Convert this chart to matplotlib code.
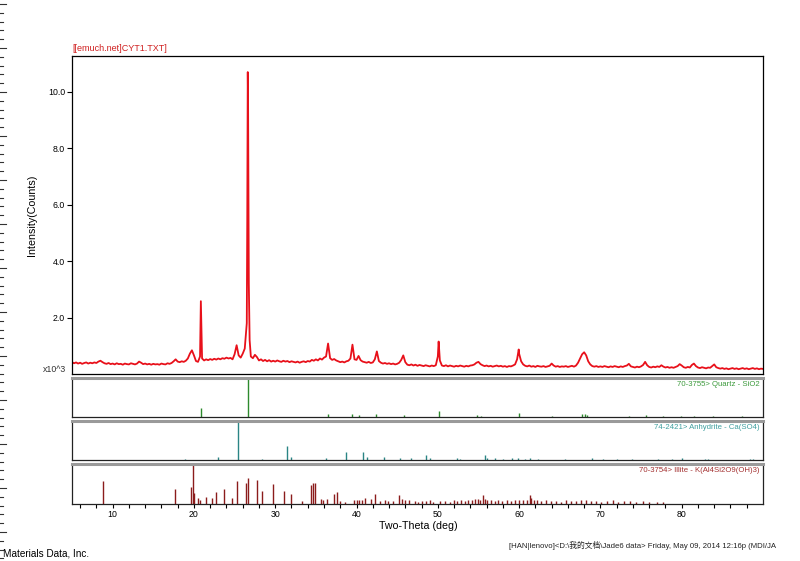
import numpy as np
import matplotlib
matplotlib.use('Agg')
import matplotlib.pyplot as plt
from matplotlib.lines import Line2D

plt.rcParams['font.family'] = ['Liberation Sans', 'Noto Sans CJK SC', 'DejaVu Sans']

# scan: 5..90 deg, step 0.25 (counts x10^3)
scan_start, scan_step = 5.0, 0.25
scan_counts = [
    0.42, 0.38, 0.41, 0.37, 0.40, 0.36, 0.39, 0.41, 0.37, 0.40, 0.38, 0.41, 0.39, 0.44, 0.47, 0.42, 0.38, 0.36, 0.39, 0.35,
    0.37, 0.34, 0.38, 0.35, 0.36, 0.33, 0.37, 0.35, 0.34, 0.38, 0.36, 0.34, 0.37, 0.44, 0.40, 0.35, 0.37, 0.34, 0.36, 0.33,
    0.36, 0.34, 0.35, 0.33, 0.37, 0.35, 0.34, 0.38, 0.36, 0.39, 0.45, 0.52, 0.44, 0.42, 0.45, 0.43, 0.47, 0.55, 0.72, 0.84,
    0.66, 0.46, 0.43, 0.62, 0.55, 0.48, 0.52, 0.49, 0.53, 0.50, 0.54, 0.51, 0.55, 0.52, 0.56, 0.54, 0.58, 0.55, 0.57, 0.52,
    0.70, 1.02, 0.66, 0.58, 0.72, 0.90, 1.80, 3.20, 0.62, 0.56, 0.68, 0.60, 0.48, 0.52, 0.46, 0.50, 0.45, 0.49, 0.44, 0.47,
    0.44, 0.48, 0.45, 0.43, 0.47, 0.44, 0.46, 0.42, 0.45, 0.43, 0.41, 0.44, 0.40, 0.43, 0.45, 0.42, 0.46, 0.44, 0.50, 0.47,
    0.52, 0.48, 0.55, 0.51, 0.58, 0.62, 1.08, 0.56, 0.50, 0.53, 0.48, 0.45, 0.42, 0.44, 0.41, 0.45, 0.47, 0.55, 1.04, 0.52,
    0.50, 0.64, 0.49, 0.44, 0.42, 0.40, 0.43, 0.39, 0.41, 0.52, 0.80, 0.46, 0.40, 0.37, 0.39, 0.36, 0.38, 0.35, 0.37, 0.34,
    0.36, 0.40, 0.50, 0.66, 0.42, 0.33, 0.31, 0.34, 0.30, 0.33, 0.29, 0.32, 0.30, 0.28, 0.31, 0.29, 0.27, 0.30, 0.28, 0.31,
    0.62, 0.48, 0.30, 0.28, 0.31, 0.27, 0.30, 0.28, 0.26, 0.29, 0.27, 0.30, 0.28, 0.26, 0.29, 0.27, 0.30, 0.31, 0.34, 0.40,
    0.43, 0.35, 0.31, 0.28, 0.30, 0.27, 0.29, 0.26, 0.28, 0.30, 0.27, 0.29, 0.26, 0.28, 0.25, 0.28, 0.27, 0.30, 0.34, 0.52,
    0.72, 0.45, 0.34, 0.29, 0.27, 0.30, 0.26, 0.28, 0.25, 0.29, 0.27, 0.26, 0.28, 0.25, 0.27, 0.29, 0.37, 0.30, 0.26, 0.28,
    0.25, 0.27, 0.26, 0.28, 0.25, 0.27, 0.29, 0.26, 0.30, 0.40, 0.55, 0.70, 0.77, 0.66, 0.45, 0.34, 0.28, 0.26, 0.28, 0.25,
    0.27, 0.25, 0.28, 0.26, 0.24, 0.27, 0.25, 0.28, 0.26, 0.24, 0.27, 0.25, 0.28, 0.30, 0.36, 0.27, 0.25, 0.23, 0.26, 0.24,
    0.27, 0.32, 0.43, 0.31, 0.25, 0.23, 0.26, 0.24, 0.27, 0.25, 0.31, 0.26, 0.23, 0.25, 0.22, 0.24, 0.22, 0.25, 0.28, 0.35,
    0.30, 0.24, 0.22, 0.25, 0.23, 0.32, 0.37, 0.28, 0.23, 0.21, 0.24, 0.22, 0.20, 0.23, 0.22, 0.28, 0.34, 0.24, 0.21, 0.19,
    0.21, 0.18, 0.20, 0.17, 0.19, 0.21, 0.18, 0.20, 0.17, 0.19, 0.21, 0.18, 0.20, 0.17, 0.19, 0.21, 0.18, 0.20, 0.17, 0.19,
    0.18,
]
# extra points on the sharp peaks
peak_2theta = [20.85, 26.56, 26.62, 26.66, 26.70, 26.85, 50.10, 59.95]
peak_counts = [2.58, 5.50, 10.70, 9.60, 6.70, 1.20, 1.15, 0.87]

# reference patterns (2-theta, relative intensity %)
quartz_2t = [20.85, 26.64, 36.54, 39.47, 40.29, 42.45, 45.79, 50.14, 54.87, 55.32, 59.96,
             64.03, 67.74, 68.14, 68.32, 73.47, 75.66, 77.67, 79.88, 81.49, 83.84, 87.4]
quartz_I = [22, 100, 8, 8, 4, 6, 4, 14, 4, 2, 9, 2, 6, 7, 5, 2, 3, 1, 2, 2, 1, 1]

anhydrite_2t = [18.9, 22.9, 25.45, 28.4, 31.4, 31.9, 36.3, 38.7, 40.85, 41.25, 43.4, 45.4, 46.7,
                48.6, 49.0, 52.3, 52.7, 55.8, 56.1, 57.0, 58.0, 59.1, 59.9, 60.7, 61.3, 62.3,
                65.6, 69.0, 70.3, 72.0, 73.9, 77.1, 78.8, 80.0, 82.9, 83.2, 88.4, 88.8]
anhydrite_I = [2, 8, 100, 3, 36, 8, 5, 20, 22, 8, 7, 6, 4,
               12, 5, 6, 3, 13, 5, 4, 3, 5, 4, 3, 4, 3,
               3, 4, 3, 3, 3, 3, 3, 4, 3, 3, 3, 2]

illite_2t = [8.8, 17.7, 19.6, 19.85, 20.05, 20.45, 20.8, 21.5, 22.2, 22.7, 23.7, 24.7, 25.3,
             26.45, 26.65, 27.7, 28.4, 29.75, 31.05, 31.95, 33.3, 34.45, 34.7, 34.95, 35.6,
             35.9, 36.4, 37.2, 37.65, 38.0, 38.6, 39.7, 40.0, 40.3, 40.7, 41.1, 41.8, 42.25,
             42.9, 43.5, 43.9, 44.5, 45.2, 45.6, 46.0, 46.5, 47.2, 47.6, 48.1, 48.5, 49.0,
             49.4, 50.3, 50.9, 51.5, 52.0, 52.4, 52.9, 53.3, 53.7, 54.2, 54.6, 54.9, 55.2,
             55.5, 55.8, 56.1, 56.5, 57.0, 57.4, 57.9, 58.5, 59.0, 59.5, 60.0, 60.5, 61.0,
             61.3, 61.5, 61.8, 62.2, 62.7, 63.3, 63.9, 64.5, 65.1, 65.8, 66.4, 67.0, 67.6,
             68.2, 68.8, 69.5, 70.1, 70.8, 71.5, 72.2, 72.9, 73.6, 74.4, 75.2, 76.0, 76.9, 77.7]
illite_I = [60, 37, 43, 100, 28, 15, 10, 17, 15, 31, 38, 15, 60,
            55, 68, 63, 32, 50, 32, 26, 6, 48, 55, 55, 11,
            10, 11, 24, 30, 6, 5, 8, 10, 9, 8, 15, 13, 24,
            6, 10, 7, 6, 22, 13, 10, 8, 6, 5, 7, 6, 8,
            5, 6, 7, 5, 8, 6, 9, 7, 10, 8, 12, 12, 10,
            23, 11, 10, 8, 6, 9, 7, 8, 6, 9, 10, 8, 9,
            23, 15, 10, 8, 7, 9, 6, 7, 5, 8, 6, 7, 9,
            8, 6, 7, 5, 6, 8, 5, 7, 6, 5, 6, 4, 5, 4]

y_ticks = [2, 4, 6, 8, 10]
x_ticks = [10, 20, 30, 40, 50, 60, 70, 80]

W, H = 800, 561


def fx(px):
    return px / W


def fy(py):
    return 1 - py / H


def box(px_left, px_top, px_right, px_bottom):
    return [fx(px_left), fy(px_bottom), fx(px_right) - fx(px_left), fy(px_top) - fy(px_bottom)]


fig = plt.figure(figsize=(8, 5.61), dpi=100)

# main scan
grid = scan_start + scan_step * np.arange(len(scan_counts))
tt = np.concatenate([grid, peak_2theta])
cc = np.concatenate([scan_counts, peak_counts])
order = np.argsort(tt)

ax = fig.add_axes(box(72, 56, 763, 374))
ax.plot(tt[order], cc[order], color='#e8101a', lw=1.3)
ax.set_xlim(5, 90)
ax.set_ylim(0, 11.27)
ax.set_yticks(y_ticks)
ax.set_yticklabels(['%.1f' % v for v in y_ticks])
ax.set_xticks([])
ax.tick_params(axis='y', direction='out', length=3.5, width=0.8, labelsize=6.3, pad=1.5)
for s in ax.spines.values():
    s.set_linewidth(0.9)
ax.text(0.0, 1.008, '[[emuch.net]CYT1.TXT]', transform=ax.transAxes, fontsize=6.5,
        color='#d02020', ha='left', va='bottom')


def stick_panel(top, bottom, pos, inten, color, tcolor, label):
    a = fig.add_axes(box(72, top, 763, bottom))
    a.vlines(pos, 0, inten, color=color, lw=1.0)
    a.set_xlim(5, 90)
    a.set_ylim(0, 105)
    a.set_yticks([])
    a.set_xticks([])
    for s in a.spines.values():
        s.set_linewidth(0.9)
        s.set_color('#222222')
    a.spines['top'].set_color('#9a9a9a')
    a.spines['top'].set_linewidth(2.2)
    a.text(0.995, 0.9, label, transform=a.transAxes, ha='right', va='top',
           fontsize=5.6, color=tcolor)
    return a


stick_panel(377.5, 416.5, quartz_2t, quartz_I, '#2d8a2d', '#3c9a3c', '70-3755> Quartz - SiO2')
stick_panel(420.5, 460, anhydrite_2t, anhydrite_I, '#2a8585', '#3f9f9f', '74-2421> Anhydrite - Ca(SO4)')
ax3 = stick_panel(463.5, 503.5, illite_2t, illite_I, '#8b1c1c', '#a33030',
                  '70-3754> Illite - K(Al4Si2O9(OH)3)')
ax3.set_xticks(x_ticks)
ax3.set_xticks(np.arange(6, 90, 2), minor=True)
ax3.tick_params(axis='x', which='major', direction='out', length=3, width=0.8, labelsize=6.3, pad=1.5)
ax3.tick_params(axis='x', which='minor', direction='out', length=3, width=0.8)

fig.text(fx(32), fy(215), 'Intensity(Counts)', rotation=90, ha='center', va='center', fontsize=7.7)
fig.text(fx(66), fy(370), 'x10^3', ha='right', va='center', fontsize=6.3, color='#333333')
fig.text(fx(418), fy(526), 'Two-Theta (deg)', ha='center', va='center', fontsize=7.7)
fig.text(fx(3), fy(553), 'Materials Data, Inc.', ha='left', va='center', fontsize=7.2)
fig.text(fx(509), fy(545), '[HAN|lenovo]<D:\\我的文档\\Jade6 data> Friday, May 09, 2014 12:16p (MDI/JA',
         ha='left', va='center', fontsize=5.6, color='#222222')

# ruler marks on the left edge of the screenshot
for i, y in enumerate(np.arange(4, H, 8.8)):
    ln = 6 if i % 5 == 0 else 3
    fig.add_artist(Line2D([0, fx(ln)], [fy(y), fy(y)], color='#333333', lw=0.8))

fig.savefig('out.png', dpi=100)
